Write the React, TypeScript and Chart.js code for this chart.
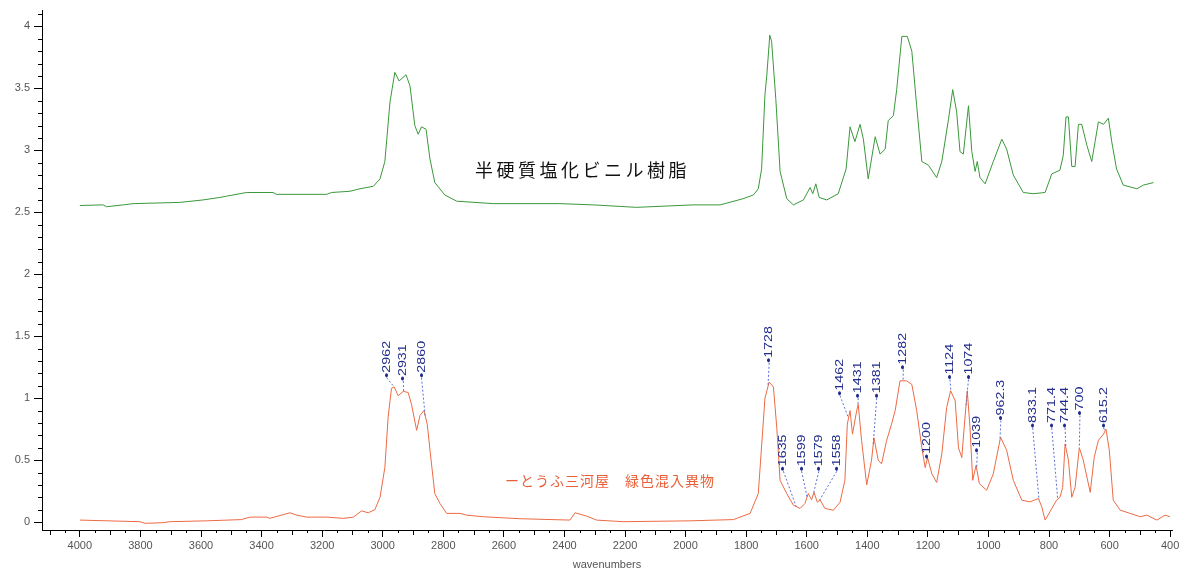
import React, { useEffect, useRef } from "react";
import { Chart, registerables } from "chart.js";

Chart.register(...registerables);

// ---- Spectrum 1: 半硬質塩化ビニル樹脂 (reference PVC) ----
const pvcWavenumbers = [
  4000, 3923, 3912, 3857, 3824, 3670, 3593, 3538, 3516, 3450, 3362, 3351, 3185, 3169, 3108, 3075, 3031, 3009,
  2993, 2976, 2960, 2946, 2923, 2910, 2894, 2883, 2872, 2857, 2844, 2828, 2795, 2756, 2635, 2415, 2305, 2162,
  1975, 1886, 1810, 1776, 1760, 1749, 1738, 1732, 1722, 1716, 1702, 1688, 1666, 1644, 1611, 1589, 1580, 1570,
  1559, 1534, 1496, 1470, 1457, 1441, 1424, 1413, 1397, 1374, 1358, 1341, 1331, 1314, 1303, 1286, 1268, 1253,
  1237, 1220, 1198, 1171, 1154, 1132, 1118, 1105, 1094, 1083, 1066, 1055, 1044, 1037, 1028, 1011, 984, 956,
  940, 918, 885, 852, 813, 791, 764, 753, 744, 736, 725, 714, 703, 692, 675, 659, 648, 637, 620, 604, 593, 577,
  555, 510, 488, 455,
];
const pvcAbsorbance = [
  2.555, 2.56, 2.545, 2.56, 2.57, 2.58, 2.6, 2.62, 2.63, 2.66, 2.66, 2.645, 2.645, 2.66, 2.67, 2.69, 2.71, 2.77,
  2.91, 3.39, 3.63, 3.56, 3.61, 3.52, 3.2, 3.13, 3.19, 3.17, 2.93, 2.74, 2.64, 2.59, 2.57, 2.57, 2.56, 2.54,
  2.56, 2.56, 2.61, 2.64, 2.69, 2.85, 3.45, 3.6, 3.93, 3.88, 3.41, 2.83, 2.61, 2.56, 2.6, 2.7, 2.65, 2.73,
  2.62, 2.6, 2.65, 2.85, 3.19, 3.07, 3.21, 3.09, 2.77, 3.11, 2.97, 3.01, 3.24, 3.28, 3.49, 3.92, 3.92, 3.8,
  3.36, 2.91, 2.88, 2.78, 2.91, 3.25, 3.49, 3.31, 2.99, 2.97, 3.36, 2.99, 2.83, 2.91, 2.78, 2.73, 2.91, 3.09,
  3.01, 2.8, 2.66, 2.65, 2.66, 2.81, 2.84, 2.96, 3.27, 3.27, 2.87, 2.87, 3.21, 3.21, 3.04, 2.91, 3.07, 3.23, 3.21, 3.26, 3.07, 2.85,
  2.72, 2.69, 2.72, 2.74,
];

// ---- Spectrum 2: とうふ三河屋 緑色混入異物 (sample) ----
const sampleWavenumbers = [
  4000, 3802, 3785, 3725, 3703, 3582, 3466, 3439, 3383, 3373, 3306, 3284, 3251, 3185, 3130, 3097, 3070, 3048,
  3026, 3009, 2993, 2982, 2971, 2962, 2949, 2932, 2916, 2905, 2888, 2877, 2864, 2853, 2844, 2828, 2811, 2789,
  2745, 2723, 2668, 2547, 2382, 2365, 2327, 2294, 2206, 1985, 1842, 1787, 1760, 1738, 1724, 1710, 1699, 1688,
  1666, 1644, 1622, 1606, 1595, 1584, 1576, 1565, 1556, 1540, 1512, 1490, 1474, 1466, 1457, 1449, 1435, 1430,
  1419, 1402, 1386, 1378, 1364, 1353, 1336, 1320, 1308, 1292, 1270, 1253, 1237, 1220, 1209, 1201, 1187, 1171,
  1154, 1138, 1125, 1110, 1099, 1088, 1081, 1070, 1061, 1052, 1041, 1030, 1006, 984, 960, 940, 918, 890, 863,
  835, 824, 813, 797, 775, 764, 755, 747, 736, 725, 714, 700, 687, 664, 651, 637, 620, 612, 601, 588, 565, 532,
  499, 477, 444, 417, 401,
];
const sampleAbsorbance = [
  0.016, 0.003, -0.01, -0.005, 0.003, 0.01, 0.02, 0.04, 0.04, 0.03, 0.075, 0.056, 0.04, 0.04, 0.03, 0.04, 0.09, 0.075,
  0.1, 0.2, 0.44, 0.85, 1.08, 1.09, 1.02, 1.055, 1.046, 0.95, 0.74, 0.86, 0.9, 0.79, 0.58, 0.23, 0.15, 0.07,
  0.07, 0.056, 0.043, 0.027, 0.016, 0.075, 0.048, 0.016, 0.003, 0.01, 0.02, 0.07, 0.23, 1.0, 1.13, 1.09, 0.765, 0.337,
  0.23, 0.136, 0.11, 0.15, 0.23, 0.18, 0.24, 0.16, 0.18, 0.11, 0.096, 0.16, 0.337, 0.79, 0.9, 0.71, 0.9, 0.95,
  0.66, 0.3, 0.5, 0.68, 0.5, 0.47, 0.66, 0.79, 0.9, 1.14, 1.14, 1.11, 0.9, 0.6, 0.44, 0.52, 0.39, 0.32,
  0.55, 0.925, 1.06, 0.98, 0.6, 0.52, 0.74, 1.06, 0.765, 0.337, 0.457, 0.31, 0.257, 0.39, 0.685, 0.58, 0.337, 0.177, 0.163,
  0.19, 0.123, 0.016, 0.083, 0.177, 0.2, 0.28, 0.63, 0.5, 0.2, 0.28, 0.6, 0.5, 0.24, 0.52, 0.66, 0.71, 0.75, 0.58, 0.177, 0.096, 0.07,
  0.043, 0.056, 0.016, 0.056, 0.043,
];

const seriesNames = ["半硬質塩化ビニル樹脂", "ーとうふ三河屋　緑色混入異物"];

// ---- Peak annotations on the sample spectrum ----
const peakWavenumbers = [2962, 2931, 2860, 1728, 1635, 1599, 1579, 1558, 1462, 1431, 1381, 1282, 1200, 1124, 1074, 1039, 962.3, 833.1, 771.4, 744.4, 700, 615.2];
const peakLabels = ["2962", "2931", "2860", "1728", "1635", "1599", "1579", "1558", "1462", "1431", "1381", "1282", "1200", "1124", "1074", "1039", "962.3", "833.1", "771.4", "744.4", "700", "615.2"];

// ---- Axis ticks ----
const xTickValues = [4000, 3800, 3600, 3400, 3200, 3000, 2800, 2600, 2400, 2200, 2000, 1800, 1600, 1400, 1200, 1000, 800, 600, 400];
const xTickLabels = ["4000", "3800", "3600", "3400", "3200", "3000", "2800", "2600", "2400", "2200", "2000", "1800", "1600", "1400", "1200", "1000", "800", "600", "400"];
const yTickValues = [0, 0.5, 1, 1.5, 2, 2.5, 3, 3.5, 4];
const yTickLabels = ["0", "0.5", "1", "1.5", "2", "2.5", "3", "3.5", "4"];
const xTitle = "wavenumbers";

// ---- Annotation placement (data units) ----
const peakLabelAnchors = {
  wavenumber: [2987, 2932, 2872, 1724, 1677, 1617, 1560, 1501, 1490, 1430, 1369, 1281, 1204, 1127, 1066, 1037, 959, 854, 791, 747, 698, 620],
  level: [1.165, 1.138, 1.165, 1.285, 0.41, 0.41, 0.41, 0.41, 1.02, 1.0, 1.0, 1.23, 0.51, 1.15, 1.15, 0.56, 0.82, 0.76, 0.76, 0.76, 0.86, 0.76],
};
const seriesNameAnchors = { wavenumber: [2695, 2596], level: [2.84, 0.33] };

function interp(ws: number[], vs: number[], w: number) {
  for (let i = 0; i < ws.length - 1; i++) {
    const a = ws[i], b = ws[i + 1];
    if ((w <= a && w >= b) || (w >= a && w <= b)) {
      const t = a === b ? 0 : (w - a) / (b - a);
      return vs[i] + t * (vs[i + 1] - vs[i]);
    }
  }
  return vs[vs.length - 1];
}

const TICK_FONT = '"Liberation Sans", Arial, sans-serif';

const decorPlugin = {
  id: "decor",
  afterDraw(chart: any) {
    const { ctx, chartArea, scales } = chart;
    const x = scales.x, y = scales.y;
    ctx.save();
    // minor ticks
    ctx.strokeStyle = "#000";
    ctx.lineWidth = 1;
    ctx.beginPath();
    for (let v = 400; v <= 4100; v += 50) {
      if (v % 200 === 0) continue;
      const px = Math.round(x.getPixelForValue(v)) + 0.5;
      ctx.moveTo(px, chartArea.bottom);
      ctx.lineTo(px, chartArea.bottom + (v % 100 === 0 ? 5 : 3));
    }
    for (let k = 0; k <= 41; k++) {
      if (k % 5 === 0) continue;
      const py = Math.round(y.getPixelForValue(k / 10)) + 0.5;
      ctx.moveTo(chartArea.left, py);
      ctx.lineTo(chartArea.left - 4, py);
    }
    ctx.stroke();

    // peak leaders and labels
    peakWavenumbers.forEach((w, i) => {
      const px = x.getPixelForValue(w);
      const py = y.getPixelForValue(interp(sampleWavenumbers, sampleAbsorbance, w));
      const lx = x.getPixelForValue(peakLabelAnchors.wavenumber[i]);
      const ly = y.getPixelForValue(peakLabelAnchors.level[i]);
      ctx.strokeStyle = "#5b6fd6";
      ctx.lineWidth = 1;
      ctx.setLineDash([2, 2]);
      ctx.beginPath();
      ctx.moveTo(lx, ly);
      ctx.lineTo(px, py);
      ctx.stroke();
      ctx.setLineDash([]);
      ctx.save();
      ctx.translate(lx, ly);
      ctx.rotate(-Math.PI / 2);
      ctx.scale(1.3, 1);
      ctx.fillStyle = "#1f2a8c";
      ctx.font = `11px ${TICK_FONT}`;
      ctx.textAlign = "left";
      ctx.textBaseline = "middle";
      ctx.fillText("•" + peakLabels[i], 0, 0);
      ctx.restore();
    });

    // series names
    const nameStyles = [
      { color: "#111111", font: '18px "Noto Sans CJK JP", sans-serif', spacing: "3.5px" },
      { color: "#e8603a", font: '14px "Noto Sans CJK JP", sans-serif', spacing: "1px" },
    ];
    seriesNames.forEach((name, i) => {
      const st = nameStyles[i];
      ctx.fillStyle = st.color;
      ctx.font = st.font;
      (ctx as any).letterSpacing = st.spacing;
      ctx.textAlign = "left";
      ctx.textBaseline = "middle";
      ctx.fillText(name, x.getPixelForValue(seriesNameAnchors.wavenumber[i]), y.getPixelForValue(seriesNameAnchors.level[i]));
    });
    (ctx as any).letterSpacing = "0px";
    ctx.restore();
  },
};

export default function App() {
  const ref = useRef<HTMLCanvasElement>(null);
  useEffect(() => {
    const canvas = ref.current;
    if (!canvas) return;
    const chart = new Chart(canvas, {
      type: "line",
      data: {
        datasets: [
          {
            label: seriesNames[0],
            data: pvcWavenumbers.map((w, i) => ({ x: w, y: pvcAbsorbance[i] })),
            borderColor: "#3a983a",
            borderWidth: 1,
            pointRadius: 0,
            fill: false,
            tension: 0,
          },
          {
            label: seriesNames[1],
            data: sampleWavenumbers.map((w, i) => ({ x: w, y: sampleAbsorbance[i] })),
            borderColor: "#ec6a44",
            borderWidth: 1,
            pointRadius: 0,
            fill: false,
            tension: 0,
          },
        ],
      },
      options: {
        responsive: false,
        devicePixelRatio: 1,
        animation: false,
        layout: { padding: { left: 0, top: 7, right: 12, bottom: 0 } },
        plugins: { legend: { display: false }, tooltip: { enabled: false } },
        scales: {
          x: {
            type: "linear",
            reverse: true,
            min: 394,
            max: 4125,
            afterBuildTicks: (s: any) => {
              s.ticks = xTickValues.map((v) => ({ value: v }));
            },
            afterFit: (s: any) => {
              s.height = 46;
            },
            ticks: {
              autoSkip: false,
              maxRotation: 0,
              padding: 2,
              color: "#555",
              font: { family: TICK_FONT, size: 11 },
              callback: (_v: any, i: number) => xTickLabels[i],
            },
            grid: { display: true, drawOnChartArea: false, tickLength: 7, color: "#000" },
            border: { display: true, color: "#000" },
            title: {
              display: true,
              text: xTitle,
              color: "#555",
              font: { family: TICK_FONT, size: 11 },
              padding: { top: 2, bottom: 4 },
            },
          },
          y: {
            type: "linear",
            min: -0.064,
            max: 4.128,
            afterBuildTicks: (s: any) => {
              s.ticks = yTickValues.map((v) => ({ value: v }));
            },
            afterFit: (s: any) => {
              s.width = 42;
            },
            ticks: {
              autoSkip: false,
              padding: 4,
              color: "#555",
              font: { family: TICK_FONT, size: 11 },
              callback: (_v: any, i: number) => yTickLabels[i],
            },
            grid: { display: true, drawOnChartArea: false, tickLength: 8, color: "#000" },
            border: { display: true, color: "#000" },
          },
        },
      },
      plugins: [decorPlugin],
    } as any);
    return () => chart.destroy();
  }, []);
  return (
    <div style={{ position: "fixed", left: 0, top: 0, width: 1184, height: 576, background: "#fff" }}>
      <canvas ref={ref} width={1184} height={576} style={{ display: "block", width: 1184, height: 576 }} />
    </div>
  );
}
